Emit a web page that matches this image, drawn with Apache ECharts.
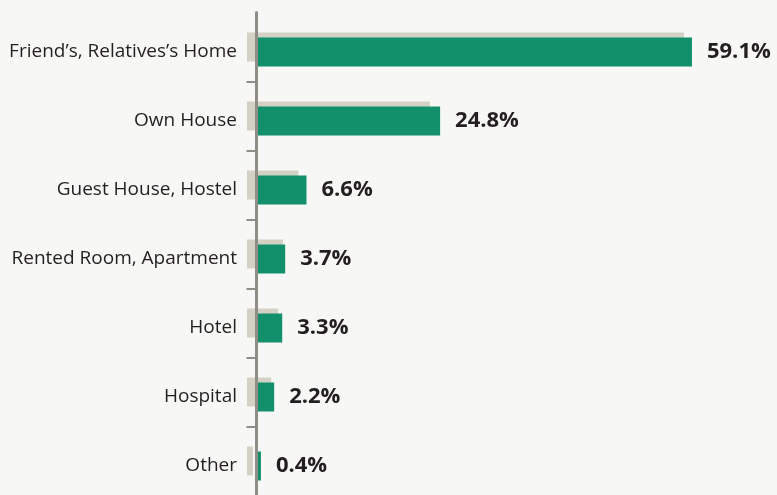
<!DOCTYPE html>
<html>
<head>
<meta charset="utf-8">
<script src="https://cdn.jsdelivr.net/npm/echarts@6/dist/echarts.min.js"></script>
<style>
html,body{margin:0;padding:0;background:#f7f7f5;}
#chart{width:777px;height:495px;}
</style>
</head>
<body>
<div id="chart"></div>
<script>
const categories = ["Friend’s, Relatives’s Home", "Own House", "Guest House, Hostel", "Rented Room, Apartment", "Hotel", "Hospital", "Other"];
const values = [59.1, 24.8, 6.6, 3.7, 3.3, 2.2, 0.4];
const shadowValues = [59.5, 24.9, 7.0, 4.9, 4.25, 3.3, 0.8];

const chart = echarts.init(document.getElementById('chart'), null, {renderer: 'canvas'});
const axisColor = '#8e8e86';
chart.setOption({
  animation: false,
  backgroundColor: '#f7f7f5',
  grid: [
    {left: 258, top: 17.5, width: 514, height: 483, outerBoundsMode: 'none', containLabel: false},
    {left: 247, top: 12.5, width: 514, height: 483, outerBoundsMode: 'none', containLabel: false}
  ],
  xAxis: [
    {gridIndex: 0, type: 'value', min: 0, max: 70, show: false},
    {gridIndex: 1, type: 'value', min: 0, max: 70, show: false}
  ],
  yAxis: [
    {gridIndex: 0, type: 'category', data: categories, inverse: true,
     axisLine: {show: false}, axisTick: {show: false}, splitLine: {show: false},
     axisLabel: {margin: 21, color: '#231f20', fontSize: 19, fontFamily: 'Open Sans'}},
    {gridIndex: 1, type: 'category', data: categories, inverse: true, offset: -9.5, z: 5,
     axisLine: {show: true, lineStyle: {color: axisColor, width: 3}},
     axisTick: {show: true, length: 10, interval: function (i) { return i !== 0; }, lineStyle: {color: axisColor, width: 2}},
     axisLabel: {show: false}, splitLine: {show: false}}
  ],
  series: [
    {type: 'bar', xAxisIndex: 1, yAxisIndex: 1, data: shadowValues, barWidth: 29,
     itemStyle: {color: '#d3d0c4'}, silent: true, z: 1},
    {type: 'bar', xAxisIndex: 0, yAxisIndex: 0, data: values, barWidth: 29,
     itemStyle: {color: '#128f6b'}, z: 3,
     label: {show: true, position: 'right', distance: 15,
       formatter: p => p.value.toFixed(1) + '%',
       fontFamily: 'Open Sans', fontWeight: 'bold', fontSize: 22, color: '#231f20'}}
  ]
});
</script>
</body>
</html>
